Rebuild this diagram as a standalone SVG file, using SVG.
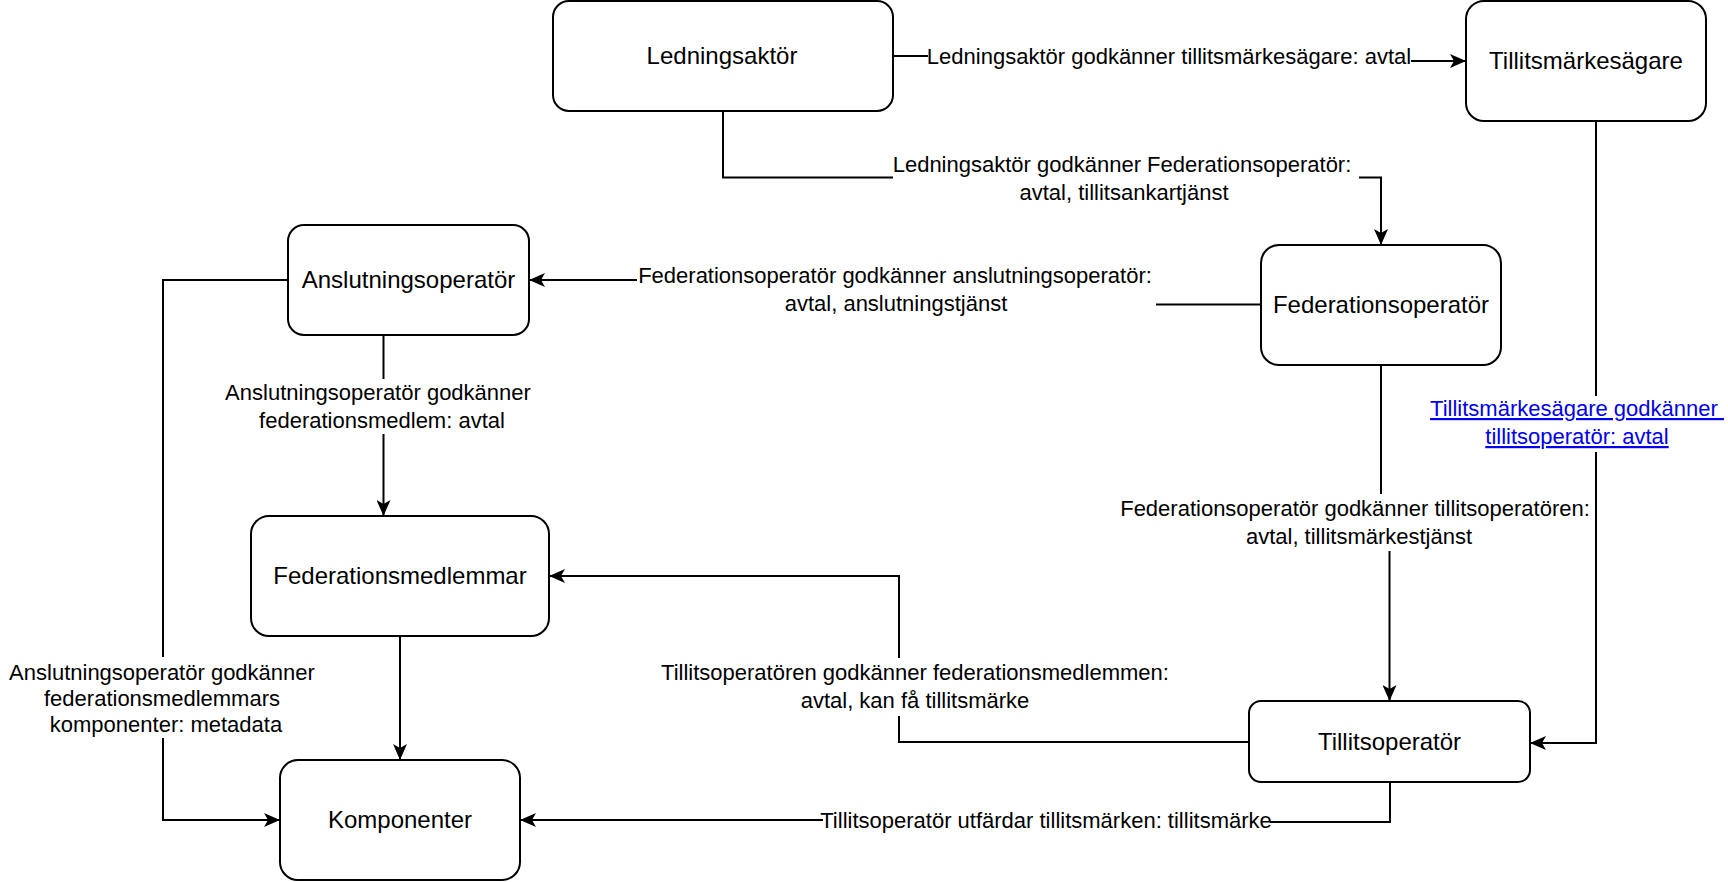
<svg xmlns="http://www.w3.org/2000/svg" width="1728" height="882" viewBox="0 0 1728 882">
<style>
.node rect{fill:#fff;stroke:#000;stroke-width:2}
.nt{font-family:"Liberation Sans",Arial,Helvetica,sans-serif;font-size:24px;fill:#000;text-anchor:middle}
.et{font-family:"Liberation Sans",Arial,Helvetica,sans-serif;font-size:22px;fill:#000;text-anchor:middle}
.lk{fill:#0000EE;text-decoration:underline}
.e{fill:none;stroke:#000;stroke-width:2}
.bg{fill:#fff}
</style>
<defs>
<marker id="arr" markerUnits="userSpaceOnUse" markerWidth="16" markerHeight="14" refX="16" refY="7" orient="auto" viewBox="0 0 16 14">
<path d="M0,0 L16,7 L0,14 L4,7 Z" fill="#000"/>
</marker>
</defs>
<rect width="1728" height="882" fill="#fff"/>
<g id="connectors">
<path class="e" d="M893,56 H1169 V61 H1466" marker-end="url(#arr)"/>
<path class="e" d="M723,111 V177.5 H1381 V245" marker-end="url(#arr)"/>
<path class="e" d="M1261,304.5 H897 V280 H529" marker-end="url(#arr)"/>
<path class="e" d="M1596,121 V743 H1530" marker-end="url(#arr)"/>
<path class="e" d="M1381,365 V522 H1389.5 V701" marker-end="url(#arr)"/>
<path class="e" d="M1249,742 H899 V576 H549" marker-end="url(#arr)"/>
<path class="e" d="M1390,782 V822 H1047 V820 H520" marker-end="url(#arr)"/>
<path class="e" d="M383.5,335 V516" marker-end="url(#arr)"/>
<path class="e" d="M400,636 V760" marker-end="url(#arr)"/>
<path class="e" d="M288,280 H163 V820 H280" marker-end="url(#arr)"/>
<g id="edge-labels">
<rect class="bg" x="928" y="44" width="483" height="27"/>
<text class="et" x="1169" y="64">Ledningsaktör godkänner tillitsmärkesägare: avtal</text>
<rect class="bg" x="893" y="151" width="466" height="55"/>
<text class="et" x="1122" y="172">Ledningsaktör godkänner Federationsoperatör:</text>
<text class="et" x="1124" y="200">avtal, tillitsankartjänst</text>
<rect class="bg" x="637" y="262" width="519" height="56"/>
<text class="et" x="895" y="283">Federationsoperatör godkänner anslutningsoperatör:</text>
<text class="et" x="896" y="311">avtal, anslutningstjänst</text>
<rect class="bg" x="1429" y="396" width="297" height="56"/>
<text class="et lk" x="1577" y="416" xml:space="preserve">Tillitsmärkesägare godkänner </text>
<text class="et lk" x="1577" y="444">tillitsoperatör: avtal</text>
<rect class="bg" x="1122" y="494" width="467" height="57"/>
<text class="et" x="1355" y="516">Federationsoperatör godkänner tillitsoperatören:</text>
<text class="et" x="1359" y="544">avtal, tillitsmärkestjänst</text>
<rect class="bg" x="664" y="658" width="502" height="58"/>
<text class="et" x="915" y="680">Tillitsoperatören godkänner federationsmedlemmen:</text>
<text class="et" x="915" y="708">avtal, kan få tillitsmärke</text>
<rect class="bg" x="823" y="807" width="447" height="27"/>
<text class="et" x="1046" y="828">Tillitsoperatör utfärdar tillitsmärken: tillitsmärke</text>
<rect class="bg" x="226" y="379" width="304" height="55"/>
<text class="et" x="378" y="400">Anslutningsoperatör godkänner</text>
<text class="et" x="382" y="428">federationsmedlem: avtal</text>
<rect class="bg" x="9" y="657" width="305" height="81"/>
<text class="et" x="162" y="680">Anslutningsoperatör godkänner</text>
<text class="et" x="162" y="706">federationsmedlemmars</text>
<text class="et" x="166" y="732">komponenter: metadata</text>
</g>
</g>
<g id="ledningsaktor" class="node">
<rect x="553" y="1" width="340" height="110" rx="16" ry="16"/>
<text class="nt" x="722" y="64">Ledningsaktör</text>
</g>
<g id="tillitsmarkesagare" class="node">
<rect x="1466" y="1" width="240" height="120" rx="18" ry="18"/>
<text class="nt" x="1586" y="69">Tillitsmärkesägare</text>
</g>
<g id="anslutningsoperator" class="node">
<rect x="288" y="225" width="241" height="110" rx="16" ry="16"/>
<text class="nt" x="408.5" y="288">Anslutningsoperatör</text>
</g>
<g id="federationsoperator" class="node">
<rect x="1261" y="245" width="240" height="120" rx="18" ry="18"/>
<text class="nt" x="1381" y="313">Federationsoperatör</text>
</g>
<g id="federationsmedlemmar" class="node">
<rect x="251" y="516" width="298" height="120" rx="18" ry="18"/>
<text class="nt" x="400" y="584">Federationsmedlemmar</text>
</g>
<g id="komponenter" class="node">
<rect x="280" y="760" width="240" height="120" rx="18" ry="18"/>
<text class="nt" x="400" y="828">Komponenter</text>
</g>
<g id="tillitsoperator" class="node">
<rect x="1249" y="701" width="281" height="81" rx="12" ry="12"/>
<text class="nt" x="1389.5" y="750">Tillitsoperatör</text>
</g>
</svg>
